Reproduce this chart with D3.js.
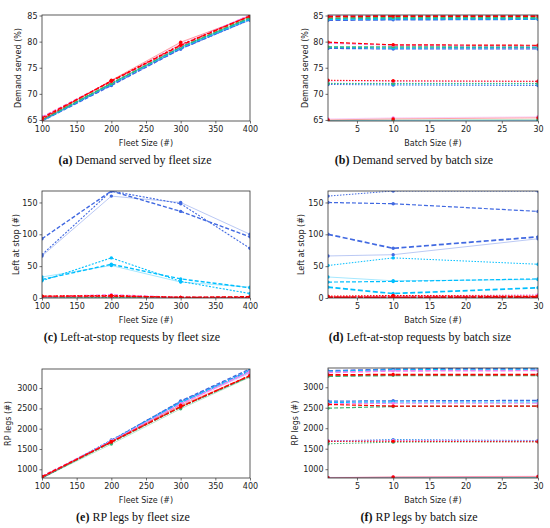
<!DOCTYPE html>
<html>
<head>
<meta charset="utf-8">
<script src="https://cdn.jsdelivr.net/npm/d3@7"></script>
<style>
  body { margin: 0; background: #fff; }
  text { font-family: "DejaVu Sans", sans-serif; fill: #222; }
  .cap { font-family: "Liberation Serif", serif; fill: #111; }
</style>
</head>
<body>
<script>
//x values
var fleetSizes = [100, 200, 300, 400];
var batchSizes = [1, 10, 30];

//one row per fleet size, one column per batch size (1, 10, 30)
var demandRoyalblue   = [[64.8, 64.8, 64.8], [71.8, 71.7, 71.6], [78.7, 78.6, 78.6], [84.1, 84.2, 84.3]];
var demandDeepskyblue = [[64.9, 64.9, 64.9], [72.0, 71.9, 71.9], [78.9, 78.8, 78.9], [84.3, 84.4, 84.4]];
var demandGreen       = [[64.9, 65.0, 65.1], [72.0, 72.0, 72.0], [79.0, 79.0, 79.0], [84.5, 84.6, 84.6]];
var demandViolet      = [[65.2, 65.4, 65.6], [72.5, 72.4, 72.4], [79.7, 79.3, 79.2], [85.0, 85.1, 85.1]];
var demandRed         = [[65.0, 65.2, 65.4], [72.6, 72.5, 72.4], [79.9, 79.4, 79.3], [84.8, 84.9, 84.9]];

var leftRoyalblue   = [[66, 68, 93], [160, 168, 168], [150, 148, 136], [100, 78, 96]];
var leftDeepskyblue = [[33, 27, 29], [51, 63, 53], [25, 26, 30], [17, 7, 16]];
var leftGreen       = [[0, 1, 1], [1, 1, 2], [0, 0, 0], [0, 0, 0]];
var leftViolet      = [[1, 2, 2], [2, 3, 5], [1, 1, 1], [0, 1, 1]];
var leftRed         = [[2, 3, 3], [3, 4, 3], [1, 1, 1], [1, 1, 2]];

var legsRoyalblue   = [[785, 790, 790], [1690, 1720, 1700], [2660, 2670, 2680], [3400, 3440, 3470]];
var legsDeepskyblue = [[790, 790, 795], [1680, 1710, 1690], [2630, 2640, 2640], [3380, 3420, 3430]];
var legsGreen       = [[785, 790, 795], [1620, 1660, 1670], [2490, 2530, 2540], [3270, 3290, 3290]];
var legsViolet      = [[800, 810, 830], [1690, 1700, 1690], [2600, 2610, 2610], [3360, 3400, 3410]];
var legsRed         = [[790, 810, 820], [1680, 1680, 1670], [2580, 2540, 2540], [3300, 3310, 3310]];

//tick labels
var fleetTicks = [100, 150, 200, 250, 300, 350, 400];
var batchTicks = [5, 10, 15, 20, 25, 30];
var demandTicks = [65, 70, 75, 80, 85];
var leftTicks = [0, 50, 100, 150];
var legsTicks = [1000, 1500, 2000, 2500, 3000];

var colorNames = ["royalblue", "deepskyblue", "mediumseagreen", "violet", "red"];

var demandData = [demandRoyalblue, demandDeepskyblue, demandGreen, demandViolet, demandRed];
var leftData = [leftRoyalblue, leftDeepskyblue, leftGreen, leftViolet, leftRed];
var legsData = [legsRoyalblue, legsDeepskyblue, legsGreen, legsViolet, legsRed];

//line style per batch size (fleet panels) and per fleet size (batch panels)
var batchStyles = [
    {width: 0.8, dash: null, opacity: 0.45},
    {width: 1.1, dash: "2,1.5", opacity: 1},
    {width: 1.4, dash: "4,2", opacity: 1}
];
var fleetStyles = [
    {width: 0.8, dash: null, opacity: 0.45},
    {width: 1.0, dash: "1.5,1.5", opacity: 1},
    {width: 1.2, dash: "4,2", opacity: 1},
    {width: 1.7, dash: "5,2.5", opacity: 1}
];

var w = 550;
var h = 528;

var svg = d3.select("body")
            .append("svg")
            .attr("width", w)
            .attr("height", h);

var panels = [
    {tag: "a", mode: "fleet", data: demandData, yTicks: demandTicks, yLabel: "Demand served (%)",
     caption: "Demand served by fleet size", left: 42, right: 250, top: 15, bottom: 121, yLabOff: 21, capX: 135},
    {tag: "b", mode: "batch", data: demandData, yTicks: demandTicks, yLabel: "Demand served (%)",
     caption: "Demand served by batch size", left: 328, right: 538, top: 15, bottom: 121, yLabOff: 20, capX: 414},
    {tag: "c", mode: "fleet", data: leftData, yTicks: leftTicks, yLabel: "Left at stop (#)",
     caption: "Left-at-stop requests by fleet size", left: 42, right: 250, top: 191, bottom: 298, yLabOff: 23, capX: 132},
    {tag: "d", mode: "batch", data: leftData, yTicks: leftTicks, yLabel: "Left at stop (#)",
     caption: "Left-at-stop requests by batch size", left: 328, right: 538, top: 191, bottom: 298, yLabOff: 24, capX: 420},
    {tag: "e", mode: "fleet", data: legsData, yTicks: legsTicks, yLabel: "RP legs (#)",
     caption: "RP legs by fleet size", left: 42, right: 250, top: 369, bottom: 478, yLabOff: 31, capX: 133},
    {tag: "f", mode: "batch", data: legsData, yTicks: legsTicks, yLabel: "RP legs (#)",
     caption: "RP legs by batch size", left: 328, right: 538, top: 368, bottom: 478, yLabOff: 30, capX: 419}
];

panels.forEach(drawPanel);

function drawPanel(p, pi) {
    var g = svg.append("g");

    //all values of this metric, for the y extent
    var allVals = [];
    p.data.forEach(function(m) { m.forEach(function(row) { row.forEach(function(v) { allVals.push(v); }); }); });

    var xVals = p.mode == "fleet" ? fleetSizes : batchSizes;
    var x = d3.scaleLinear().domain(d3.extent(xVals)).range([p.left, p.right]);
    var y = d3.scaleLinear().domain(d3.extent(allVals)).range([p.bottom, p.top]);

    var clipId = "clip" + pi;
    g.append("clipPath").attr("id", clipId)
     .append("rect")
     .attr("x", p.left).attr("y", p.top)
     .attr("width", p.right - p.left).attr("height", p.bottom - p.top);

    //build series: fleet mode -> one line per (color, batch); batch mode -> one line per (color, fleet)
    var series = [];
    p.data.forEach(function(m, ci) {
        if (p.mode == "fleet") {
            batchSizes.forEach(function(b, bi) {
                series.push({color: colorNames[ci], style: batchStyles[bi],
                    pts: fleetSizes.map(function(f, fi) { return [f, m[fi][bi]]; })});
            });
        } else {
            fleetSizes.forEach(function(f, fi) {
                series.push({color: colorNames[ci], style: fleetStyles[fi],
                    pts: batchSizes.map(function(b, bi) { return [b, m[fi][bi]]; })});
            });
        }
    });

    var line = d3.line()
                 .x(function(d) { return x(d[0]); })
                 .y(function(d) { return y(d[1]); });

    var plot = g.append("g").attr("clip-path", "url(#" + clipId + ")");

    series.forEach(function(s) {
        plot.append("path")
            .attr("d", line(s.pts))
            .attr("fill", "none")
            .attr("stroke", s.color)
            .attr("stroke-width", s.style.width)
            .attr("stroke-dasharray", s.style.dash)
            .attr("stroke-opacity", s.style.opacity);
        plot.selectAll(null)
            .data(s.pts)
            .enter()
            .append("circle")
            .attr("cx", function(d) { return x(d[0]); })
            .attr("cy", function(d) { return y(d[1]); })
            .attr("r", 1.7)
            .attr("fill", s.color);
    });

    //frame
    g.append("rect")
     .attr("x", p.left).attr("y", p.top)
     .attr("width", p.right - p.left).attr("height", p.bottom - p.top)
     .attr("fill", "none").attr("stroke", "#333").attr("stroke-width", 0.8);

    //x axis
    var xAxis = d3.axisBottom(x)
                  .tickValues(p.mode == "fleet" ? fleetTicks : batchTicks)
                  .tickFormat(d3.format("d"))
                  .tickSize(2.5).tickPadding(2.5);
    var gx = g.append("g").attr("transform", "translate(0," + p.bottom + ")").call(xAxis);
    gx.select(".domain").remove();
    gx.selectAll("line").attr("stroke", "#333").attr("stroke-width", 0.7);
    gx.selectAll("text").attr("font-size", 8).attr("font-family", "DejaVu Sans").attr("fill", "#222");

    //y axis, plain integers (no thousands separator)
    var yAxis = d3.axisLeft(y)
                  .tickValues(p.yTicks)
                  .tickFormat(d3.format("d"))
                  .tickSize(2.5).tickPadding(2);
    var gy = g.append("g").attr("transform", "translate(" + p.left + ",0)").call(yAxis);
    gy.select(".domain").remove();
    gy.selectAll("line").attr("stroke", "#333").attr("stroke-width", 0.7);
    gy.selectAll("text").attr("font-size", 8).attr("font-family", "DejaVu Sans").attr("fill", "#222");

    //axis labels
    g.append("text")
     .attr("x", (p.left + p.right) / 2)
     .attr("y", p.bottom + 25)
     .attr("text-anchor", "middle")
     .attr("font-size", 8)
     .text(p.mode == "fleet" ? "Fleet Size (#)" : "Batch Size (#)");

    g.append("text")
     .attr("transform", "translate(" + (p.left - p.yLabOff) + "," + ((p.top + p.bottom) / 2) + ") rotate(-90)")
     .attr("text-anchor", "middle")
     .attr("font-size", 8)
     .text(p.yLabel);

    //caption
    var cap = g.append("text")
               .attr("class", "cap")
               .attr("x", p.capX)
               .attr("y", p.bottom + 43)
               .attr("text-anchor", "middle")
               .attr("font-size", 12);
    cap.append("tspan").attr("font-weight", "bold").text("(" + p.tag + ")");
    cap.append("tspan").attr("font-weight", "normal").text(" " + p.caption);
}
</script>
</body>
</html>
